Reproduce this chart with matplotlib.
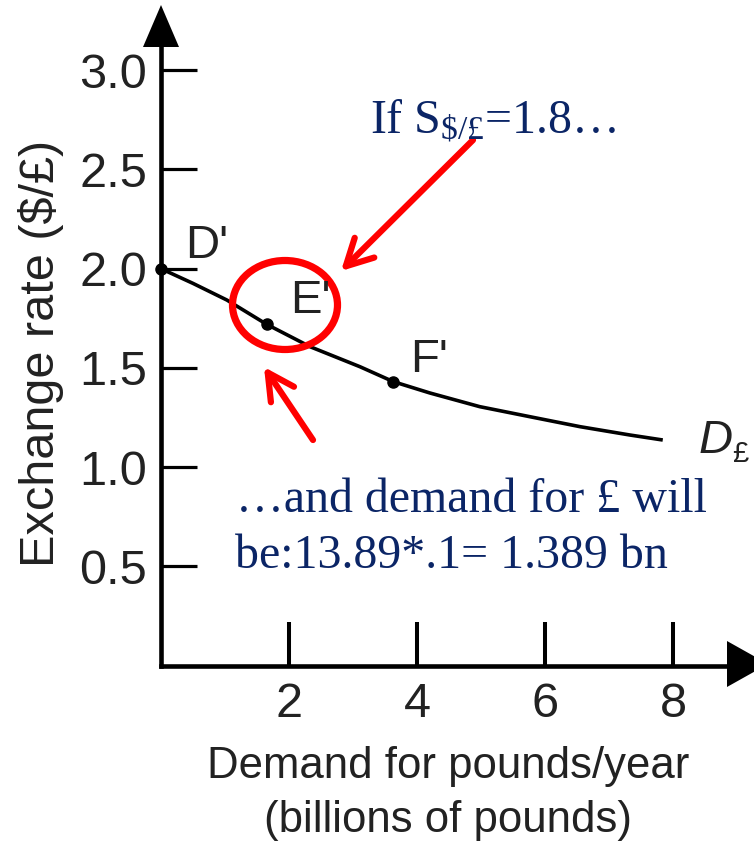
import matplotlib
matplotlib.use('Agg')
import matplotlib.pyplot as plt
from matplotlib.patches import Ellipse, Polygon

# ---------------- data ----------------
demand_x = [0.0, 0.5, 1.03, 1.65, 2.33, 3.11, 3.63, 4.2, 4.98, 5.77, 6.55, 7.33, 7.84]
rate_y = [2.0, 1.926, 1.842, 1.72, 1.607, 1.506, 1.431, 1.374, 1.305, 1.254, 1.204, 1.162, 1.137]
point_x = [0.0, 1.65, 3.63]
point_y = [2.0, 1.72, 1.431]
point_labels = ["D'", "E'", "F'"]
yticks = [0.5, 1.0, 1.5, 2.0, 2.5, 3.0]
ytick_labels = ['0.5', '1.0', '1.5', '2.0', '2.5', '3.0']
xticks = [2, 4, 6, 8]
xtick_labels = ['2', '4', '6', '8']
ylabel = 'Exchange rate ($/£)'
xlabel1 = 'Demand for pounds/year'
xlabel2 = '(billions of pounds)'
note_top = r'If S$_{\$/£}$=1.8…'
note_bot1 = '…and demand for £ will'
note_bot2 = 'be:13.89*.1= 1.389 bn'

# ---------------- style ----------------
plt.rcParams['font.family'] = ['Liberation Sans', 'DejaVu Sans']
plt.rcParams['mathtext.fontset'] = 'custom'
plt.rcParams['mathtext.rm'] = 'Liberation Serif'
plt.rcParams['mathtext.it'] = 'Liberation Serif:italic'
plt.rcParams['mathtext.default'] = 'rm'

W, H = 754, 843
NAVY = '#0b2566'
TXT = '#222222'

fig = plt.figure(figsize=(W / 100, H / 100), dpi=100)
x0_px, y0_px = 161.0, 665.7
ppx, ppy = 64.0, 198.5
ax = fig.add_axes([x0_px / W, (H - y0_px) / H, (W - x0_px) / W, y0_px / H])
ax.set_xlim(0, (W - x0_px) / ppx)
ax.set_ylim(0, y0_px / ppy)
ax.patch.set_alpha(0)


def d(px, py):
    """pixel -> data (for decorative shapes)"""
    return ((px - x0_px) / ppx, (y0_px - py) / ppy)


def f(px, py):
    """pixel -> figure fraction"""
    return (px / W, 1 - py / H)


for s in ['top', 'right']:
    ax.spines[s].set_visible(False)
for s in ['left', 'bottom']:
    ax.spines[s].set_linewidth(3.3)
    ax.spines[s].set_color('black')
    ax.spines[s].set_capstyle('projecting')
ax.spines['left'].set_bounds(0, d(0, 40)[1])
ax.spines['bottom'].set_bounds(0, d(735, 0)[0])

# axis arrow heads
ax.add_patch(Polygon([d(143, 47), d(179, 47), d(161, 5)], closed=True,
                     facecolor='black', edgecolor='none', clip_on=False, zorder=5))
ax.add_patch(Polygon([d(727, 641), d(727, 687), d(768, 664)], closed=True,
                     facecolor='black', edgecolor='none', clip_on=False, zorder=5))

# ticks
ax.set_yticks(yticks, ytick_labels)
ax.set_xticks(xticks, xtick_labels)
ax.tick_params(axis='y', direction='in', length=26, width=2.3, pad=10,
               labelsize=35, labelcolor=TXT)
ax.tick_params(axis='x', direction='in', length=32, width=2.9, pad=12,
               labelsize=35, labelcolor=TXT, color='black')
ytick_cols = ['#444444', '#888888', '#8a8a8a', '#333333', '#111111', '#3a3a3a']
for t, c in zip(ax.yaxis.get_major_ticks(), ytick_cols):
    t.tick1line.set_color(c)

# demand curve
ax.plot(demand_x, rate_y, color='black', lw=2.6, clip_on=False, zorder=4,
        solid_capstyle='butt', solid_joinstyle='round')
ax.plot(point_x, point_y, 'o', color='black', ms=8, clip_on=False, zorder=6)

# point labels
lab_px = [(185, 258), (290, 313), (410, 372)]
for lab, (lx, ly) in zip(point_labels, lab_px):
    fig.text(*f(lx, ly), lab, fontsize=34, color=TXT, ha='left', va='baseline')
fig.text(*f(699, 453), 'D', fontsize=34, style='italic', color=TXT,
         ha='left', va='baseline')
fig.text(*f(732, 462), '£', fontsize=21, color=TXT, ha='left', va='baseline')

# axis labels
fig.text(*f(41, 353), ylabel, rotation=90, ha='center', va='center',
         fontsize=35, color=TXT, parse_math=False)
fig.text(*f(448, 778), xlabel1, ha='center', va='baseline', fontsize=31.5, color=TXT)
fig.text(*f(448, 832), xlabel2, ha='center', va='baseline', fontsize=31.5, color=TXT)

# blue notes
fig.text(*f(370, 133), note_top, fontsize=34.5, color=NAVY, ha='left', va='baseline',
         family='Liberation Serif')
fig.text(*f(236, 512), note_bot1, fontsize=34.5, color=NAVY, ha='left', va='baseline',
         family='Liberation Serif')
fig.text(*f(235, 568), note_bot2, fontsize=34.5, color=NAVY, ha='left', va='baseline',
         family='Liberation Serif')

# red circle and arrows
cx, cy = d(285, 305)
ax.add_patch(Ellipse((cx, cy), width=105 / ppx, height=89 / ppy, fill=False,
                     edgecolor='#ff0000', lw=5.2, clip_on=False, zorder=7))
arrow_kw = dict(arrowstyle='->,head_length=0.95,head_width=0.5', lw=4.5,
                color='#ff0000', mutation_scale=20, shrinkA=0, shrinkB=0,
                capstyle='round', joinstyle='round')
ax.annotate('', xy=d(341, 271), xytext=d(473, 140), arrowprops=arrow_kw,
            annotation_clip=False, zorder=8)
ax.annotate('', xy=d(264, 367), xytext=d(313, 440), arrowprops=arrow_kw,
            annotation_clip=False, zorder=8)

fig.savefig('out.png', dpi=100, facecolor='white')
